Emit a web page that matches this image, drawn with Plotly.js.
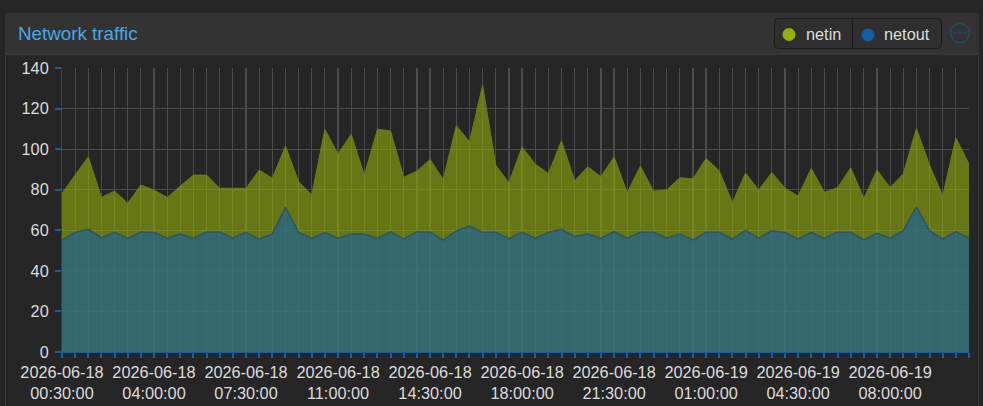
<!DOCTYPE html>
<html>
<head>
<meta charset="utf-8">
<script src="https://cdn.plot.ly/plotly-3.0.1.min.js"></script>
<style>
  html, body { margin: 0; padding: 0; background: #262626; }
  #trafficFig { width: 983px; height: 406px; }
</style>
</head>
<body>
<div id="trafficFig"></div>
<script>
// samples every 30 min, starting 2026-06-18 00:30:00
const startDay = 18;
const startMinute = 30;
const stepMinutes = 30;

const netin = [
    78.2, 87.2, 96.2, 76.2, 79.3, 73.3, 82.3, 79.8, 76.2, 81.8,
    87.2, 87.2, 80.7, 80.7, 80.7, 89.7, 85.6, 101.5, 83.9, 77.4,
    109.7, 97.5, 107.4, 87.2, 109.8, 108.9, 86.1, 89.2, 94.9, 85.1,
    111.6, 103.6, 131.5, 92.1, 83.4, 101.1, 92.6, 88.0, 104.1, 84.4,
    91.3, 86.4, 96.2, 78.5, 91.6, 79.3, 79.8, 85.9, 85.4, 95.4,
    89.3, 73.6, 88.2, 79.8, 88.5, 80.7, 76.9, 90.5, 78.7, 81.0,
    90.8, 75.7, 89.7, 81.1, 87.7, 110.2, 92.1, 76.9, 105.6, 92.6
];

const netout = [
    55.2, 59.0, 60.5, 56.4, 59.0, 56.1, 59.2, 58.9, 56.1, 58.2,
    56.1, 59.2, 59.2, 56.2, 59.0, 55.6, 58.2, 71.3, 59.0, 56.1,
    58.9, 56.1, 58.2, 58.2, 56.1, 59.2, 55.7, 59.2, 59.2, 55.2,
    59.7, 62.1, 59.0, 59.0, 55.9, 59.0, 56.1, 58.9, 60.5, 56.9,
    58.2, 56.1, 59.3, 56.1, 59.0, 59.0, 56.1, 58.2, 55.2, 59.0,
    59.0, 55.7, 60.0, 56.1, 59.7, 58.9, 55.7, 59.0, 56.1, 59.0,
    59.0, 55.2, 58.5, 56.1, 59.8, 71.6, 59.8, 55.7, 59.3, 56.1
];

const yTicks = [0, 20, 40, 60, 80, 100, 120, 140];
const labelEvery = 7;

function pad(n) { return String(n).padStart(2, '0'); }

const times = netin.map((_, i) => {
    const m = startMinute + i * stepMinutes;
    const day = startDay + Math.floor(m / 1440);
    const hh = Math.floor((m % 1440) / 60);
    const mm = m % 60;
    return { date: `2026-06-${pad(day)}`, time: `${pad(hh)}:${pad(mm)}:00` };
});
const xs = times.map(t => `${t.date} ${t.time}`);
const tickText = times.map((t, i) => i % labelEvery === 0 ? `${t.date}<br>${t.time}` : '');

// pixel -> paper helpers for the panel decoration
const PL = 62, PR = 969, PT = 68, PB = 352;
const px = x => (x - PL) / (PR - PL);
const py = y => (PB - y) / (PB - PT);

function circle(cx, cy, r, fill, line) {
    return {
        type: 'circle', xref: 'paper', yref: 'paper',
        x0: px(cx - r), x1: px(cx + r), y0: py(cy + r), y1: py(cy - r),
        fillcolor: fill, line: line || { width: 0 },
    };
}

function roundRect(x0, y0, x1, y1, r) {
    const a = (x, y) => `${px(x)},${py(y)}`;
    return `M${a(x0 + r, y0)} L${a(x1 - r, y0)} Q${a(x1, y0)} ${a(x1, y0 + r)} ` +
        `L${a(x1, y1 - r)} Q${a(x1, y1)} ${a(x1 - r, y1)} L${a(x0 + r, y1)} ` +
        `Q${a(x0, y1)} ${a(x0, y1 - r)} L${a(x0, y0 + r)} Q${a(x0, y0)} ${a(x0 + r, y0)} Z`;
}

const trafficPlot = {
    element: document.getElementById('trafficFig'),
    config: { displayModeBar: false, staticPlot: true },
    get traces() {
        return [
            {
                x: xs, y: netin, type: 'scatter', mode: 'lines', name: 'netin',
                fill: 'tozeroy', fillcolor: 'rgba(148,174,10,0.6)',
                line: { color: '#6c7a18', width: 1 },
            },
            {
                x: xs, y: netout, type: 'scatter', mode: 'lines', name: 'netout',
                fill: 'tozeroy', fillcolor: 'rgba(17,95,166,0.6)',
                line: { color: '#2b5468', width: 1.5 },
            },
        ];
    },
    layout: {
        width: 983,
        height: 406,
        margin: { l: PL, r: 983 - PR, t: PT, b: 406 - PB, pad: 0 },
        paper_bgcolor: '#262626',
        plot_bgcolor: '#262626',
        showlegend: false,
        font: {
            family: '"Liberation Sans", Arial, sans-serif',
            color: '#dcdcdc',
            size: 16,
        },
        xaxis: {
            type: 'date',
            range: [xs[0], xs[xs.length - 1]],
            tickmode: 'array',
            tickvals: xs,
            ticktext: tickText,
            showgrid: true,
            gridcolor: '#4c4c4c',
            gridwidth: 1.2,
            ticks: 'outside',
            ticklen: 5,
            tickwidth: 2,
            tickcolor: '#1a5e9e',
            showline: true,
            linecolor: '#1a5e9e',
            linewidth: 1,
            zeroline: false,
            tickfont: { size: 16.3, color: '#dcdcdc' },
        },
        yaxis: {
            range: [0, 140],
            tickmode: 'array',
            tickvals: yTicks,
            showgrid: true,
            gridcolor: '#4c4c4c',
            gridwidth: 1.2,
            ticks: 'outside',
            ticklen: 6,
            tickwidth: 2,
            tickcolor: '#1a5e9e',
            showline: true,
            linecolor: '#1d4a72',
            linewidth: 1,
            zeroline: false,
            ticklabelstandoff: 3,
            tickfont: { size: 16.3, color: '#dcdcdc' },
        },
        shapes: [
            // header band
            { type: 'rect', xref: 'paper', yref: 'paper', layer: 'below',
              x0: px(5), x1: px(979), y0: py(54), y1: py(13),
              fillcolor: '#333333', line: { width: 0 } },
            { type: 'line', xref: 'paper', yref: 'paper',
              x0: px(5), x1: px(979), y0: py(54), y1: py(54),
              line: { color: '#3d3d3d', width: 1.5 } },
            { type: 'line', xref: 'paper', yref: 'paper',
              x0: px(5.5), x1: px(5.5), y0: py(54), y1: py(406),
              line: { color: '#3a3a3a', width: 1 } },
            { type: 'line', xref: 'paper', yref: 'paper',
              x0: px(978.5), x1: px(978.5), y0: py(54), y1: py(406),
              line: { color: '#3a3a3a', width: 1 } },
            // legend box
            { type: 'path', xref: 'paper', yref: 'paper',
              path: roundRect(774.5, 18.5, 941.5, 48.5, 4),
              fillcolor: '#2f2f2f', line: { color: '#1c1c1c', width: 1 } },
            { type: 'line', xref: 'paper', yref: 'paper',
              x0: px(852.5), x1: px(852.5), y0: py(19), y1: py(48),
              line: { color: '#1c1c1c', width: 1 } },
            circle(789, 34.5, 6.5, '#94ae0a'),
            circle(868, 35, 6.5, '#115fa6'),
            // collapse icon
            circle(960, 33, 9.5, 'rgba(0,0,0,0)', { color: '#1f4d62', width: 1.5 }),
            { type: 'line', xref: 'paper', yref: 'paper',
              x0: px(953), x1: px(967), y0: py(33), y1: py(33),
              line: { color: '#1f4d62', width: 1.5 } },
        ],
        annotations: [
            { text: 'Network traffic', xref: 'paper', yref: 'paper',
              x: px(16), y: py(33), xanchor: 'left', yanchor: 'middle',
              showarrow: false, font: { size: 18.8, color: '#4aa6e8' } },
            { text: 'netin', xref: 'paper', yref: 'paper',
              x: px(804), y: py(34), xanchor: 'left', yanchor: 'middle',
              showarrow: false, font: { size: 16.3, color: '#dddddd' } },
            { text: 'netout', xref: 'paper', yref: 'paper',
              x: px(882), y: py(34), xanchor: 'left', yanchor: 'middle',
              showarrow: false, font: { size: 16.3, color: '#dddddd' } },
        ],
    },
    init() {
        Plotly.newPlot(this.element, this.traces, this.layout, this.config);
    },
};

trafficPlot.init();
</script>
</body>
</html>
